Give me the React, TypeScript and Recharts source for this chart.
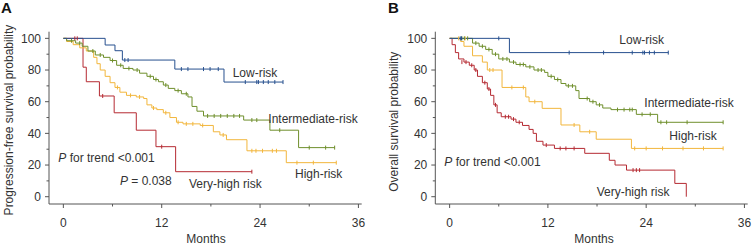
import { ComposedChart, Line, Scatter, XAxis, YAxis } from "recharts"

type Pt = [number, number]

// month, survival (%) — step values
const monthTicks = [0, 6, 12, 18, 24, 30, 36]
const probTicks = [0, 10, 20, 30, 40, 50, 60, 70, 80, 90, 100]

// A: progression-free survival
const pfsLow: Pt[] = [[0, 100], [5.1, 95.8], [6.3, 92.2], [7.2, 86.3], [13.6, 80.6], [19.6, 72.4], [26.8, 72.4]]
const pfsLowCens: Pt[] = [[7.5, 86.3], [7.9, 86.3], [14.4, 80.6], [15.2, 80.6], [17.1, 80.6], [17.9, 80.6], [18.9, 80.6], [22.2, 72.4], [23.6, 72.4], [23.8, 72.4], [24.4, 72.4], [25, 72.4], [25.8, 72.4], [26.8, 72.4]]

const pfsMid: Pt[] = [[0, 100], [0.4, 98.5], [1.5, 97], [2.3, 95], [3, 92], [3.9, 89.5], [4.9, 88], [5.7, 86], [6.5, 83], [7.3, 81], [8.5, 80], [9.3, 78], [10.2, 76], [11, 74], [11.6, 72.6], [12.2, 70.5], [12.8, 68.4], [13.6, 67], [14.4, 65], [15.2, 63], [15.7, 57], [16.3, 54], [17.1, 51], [22, 48.4], [25.2, 42], [28.7, 31], [33.1, 31]]
const pfsMidCens: Pt[] = [[1, 98.5], [2, 97], [3.6, 92], [4.5, 89.5], [6, 86], [7, 83], [8, 81], [9, 80], [10.6, 76], [11.3, 74], [12.5, 70.5], [14, 67], [15, 65], [17.6, 51], [18.4, 51], [19.2, 51], [20, 51], [20.8, 51], [21.5, 51], [23, 48.4], [23.6, 48.4], [26.4, 42], [30, 31], [32, 31], [33.1, 31]]

const pfsHigh: Pt[] = [[0, 100], [0.4, 98], [1.2, 96], [2, 94], [2.8, 92], [3.7, 88], [4.1, 84], [4.5, 80], [5.1, 76], [5.7, 72], [6.3, 69], [6.9, 66], [7.7, 64], [8.9, 63], [9.8, 62], [10.2, 58], [10.8, 56], [11.4, 55], [12.2, 53], [13, 50], [13.8, 47], [14.6, 46], [16.7, 45], [18.3, 41], [19.1, 39], [19.9, 36], [22.4, 29], [27.2, 21.5], [33.3, 21.5]]
const pfsHighCens: Pt[] = [[6.6, 69], [8.2, 64], [9.3, 63], [11, 56], [12.5, 53], [14, 47], [15, 46], [15.8, 46], [17, 45], [19.5, 39], [23, 29], [23.5, 29], [24.3, 29], [25.5, 29], [26, 29], [28.5, 21.5], [30.5, 21.5], [33.3, 21.5]]

const pfsVeryHigh: Pt[] = [[0, 100], [2.4, 81.8], [2.8, 72.6], [4.4, 63.6], [6.2, 53], [8.9, 42], [11.3, 31.6], [13.7, 15.8], [23, 15.8]]
const pfsVeryHighCens: Pt[] = [[1.4, 100], [1.7, 100], [4.8, 63.6], [12, 31.6], [23, 15.8]]

// B: overall survival
const osLow: Pt[] = [[0, 100], [7.3, 91], [26.7, 91]]
const osLowCens: Pt[] = [[1.3, 100], [1.45, 100], [6, 100], [14.6, 91], [18.8, 91], [22.3, 91], [23.6, 91], [23.8, 91], [24.4, 91], [25, 91], [26.7, 91]]

const osMid: Pt[] = [[0, 100], [2.8, 97], [3.6, 95], [4.4, 93], [5.2, 90], [6, 87], [7.3, 85], [8.1, 83.5], [9.3, 82], [10.3, 80], [11.6, 78.5], [12, 76], [12.8, 74], [13.6, 71.5], [14.2, 70], [15.4, 67], [15.8, 62], [17.1, 60], [17.9, 58], [18.7, 56], [19.7, 55], [22.8, 52], [25.4, 47], [33.4, 47]]
const osMidCens: Pt[] = [[1.5, 100], [1.8, 100], [2.2, 100], [3.2, 97], [4, 95], [4.8, 93], [5.6, 90], [6.5, 87], [7, 87], [7.8, 85], [8.6, 83.5], [9, 83.5], [9.8, 82], [10.8, 80], [11.2, 80], [12.4, 76], [13.2, 74], [14.5, 70], [15, 70], [16.8, 62], [17.5, 60], [18.3, 58], [20.5, 55], [21.3, 55], [22, 55], [22.3, 55], [23.5, 52], [24.5, 52], [25.8, 47], [26.5, 47], [29, 47], [33.4, 47]]

const osHigh: Pt[] = [[0, 100], [1.35, 98], [1.75, 95], [2.8, 89], [4, 85], [4.6, 80], [6.4, 69], [9.3, 63], [9.7, 60], [11.3, 55.8], [13.6, 45.3], [15.9, 41], [17.9, 36.3], [22.2, 30.5], [33.4, 30.5]]
const osHighCens: Pt[] = [[1.1, 100], [1.9, 100], [4.9, 80], [5.3, 80], [7.6, 69], [9, 69], [10.4, 60], [15.2, 45.3], [17.1, 41], [22.6, 30.5], [24, 30.5], [26, 30.5], [28.5, 30.5], [31, 30.5], [33.4, 30.5]]

const osVeryHigh: Pt[] = [[0, 100], [0.3, 96], [0.7, 91], [1.1, 87], [1.75, 85], [2.4, 83], [3, 80], [3.4, 76], [4, 72], [4.6, 68], [5, 64], [5.4, 58], [5.8, 53], [6.3, 50.5], [7.5, 49], [8.1, 47], [8.9, 45], [9.7, 42.5], [10.2, 40], [10.6, 35], [11.4, 32.6], [12.8, 30.5], [16.5, 27.4], [19.5, 23], [20.2, 20], [21.6, 16.8], [27.5, 8.4], [28.9, 0]]
const osVeryHighCens: Pt[] = [[1.5, 85], [2, 85], [2.7, 83], [3.2, 80], [4.3, 72], [4.8, 68], [5.6, 58], [6.8, 50.5], [7.2, 50.5], [7.8, 49], [8.5, 47], [11.8, 32.6], [13.5, 30.5], [14.2, 30.5], [15.2, 30.5], [22.4, 16.8], [22.8, 16.8], [23.2, 16.8]]

const BLUE = "#27508f"
const GREEN = "#6f8f2c"
const YELLOW = "#f2b63c"
const RED = "#b52a32"
const AXIS = "#555"
const TEXT = "#333"
const FONT = "Arial, 'Liberation Sans', sans-serif"

const toPts = (a: Pt[]) => a.map(([m, s]) => ({ m, s }))

const XTick = (props: any) => {
  const { x, y, payload } = props
  const major = payload.value % 12 === 0
  return (
    <g>
      <line x1={x} x2={x} y1={y} y2={y + (major ? 4 : 2.5)} stroke={AXIS} />
      {major && (
        <text x={x} y={y + 22.5} textAnchor="middle" fontSize={12} fill={TEXT} fontFamily={FONT}>
          {payload.value}
        </text>
      )}
    </g>
  )
}

const YTick = (props: any) => {
  const { x, y, payload } = props
  const major = payload.value % 20 === 0
  return (
    <g>
      <line x1={x - (major ? 4 : 2.5)} x2={x} y1={y} y2={y} stroke={AXIS} />
      {major && (
        <text x={x - 8} y={y + 4.2} textAnchor="end" fontSize={12} fill={TEXT} fontFamily={FONT}>
          {payload.value}
        </text>
      )}
    </g>
  )
}

const censor = (color: string) => (p: any) =>
  <line x1={p.cx} x2={p.cx} y1={p.cy - 2} y2={p.cy + 2} stroke={color} strokeWidth={1} />

type Group = { steps: Pt[]; cens: Pt[]; color: string }

const KMPanel = ({ width, yAxisWidth, right, groups }: { width: number; yAxisWidth: number; right: number; groups: Group[] }) => (
  <ComposedChart width={width} height={248} margin={{ top: 31.7, right, bottom: 14, left: 0 }}>
    <XAxis
      type="number"
      dataKey="m"
      domain={[-1.75, 36.4]}
      allowDataOverflow
      ticks={monthTicks}
      interval={0}
      tickSize={0}
      tickMargin={0}
      tick={<XTick />}
      height={30}
      stroke={AXIS}
    />
    <YAxis
      type="number"
      dataKey="s"
      domain={[-4.6, 104.2]}
      allowDataOverflow
      ticks={probTicks}
      interval={0}
      tickSize={0}
      tickMargin={0}
      tick={<YTick />}
      width={yAxisWidth}
      stroke={AXIS}
    />
    {groups.map((g, i) => (
      <Line
        key={`l${i}`}
        data={toPts(g.steps)}
        dataKey="s"
        type="stepAfter"
        stroke={g.color}
        strokeWidth={1}
        dot={false}
        activeDot={false}
        isAnimationActive={false}
      />
    ))}
    {groups.map((g, i) => (
      <Scatter key={`c${i}`} data={toPts(g.cens)} dataKey="s" shape={censor(g.color)} isAnimationActive={false} />
    ))}
  </ComposedChart>
)

const groupsA: Group[] = [
  { steps: pfsVeryHigh, cens: pfsVeryHighCens, color: RED },
  { steps: pfsHigh, cens: pfsHighCens, color: YELLOW },
  { steps: pfsMid, cens: pfsMidCens, color: GREEN },
  { steps: pfsLow, cens: pfsLowCens, color: BLUE },
]

const groupsB: Group[] = [
  { steps: osVeryHigh, cens: osVeryHighCens, color: RED },
  { steps: osHigh, cens: osHighCens, color: YELLOW },
  { steps: osMid, cens: osMidCens, color: GREEN },
  { steps: osLow, cens: osLowCens, color: BLUE },
]

const T = ({ x, y, children }: { x: number; y: number; children: any }) => (
  <text x={x} y={y} fontSize={12} fill={TEXT} fontFamily={FONT}>
    {children}
  </text>
)

export default function App() {
  return (
    <div style={{ position: "absolute", left: 0, top: 0, width: 753, height: 248, background: "#fff" }}>
      <div style={{ position: "absolute", left: 0, top: 0 }}>
        <KMPanel width={376} yAxisWidth={49} right={14.3} groups={groupsA} />
      </div>
      <div style={{ position: "absolute", left: 376, top: 0 }}>
        <KMPanel width={377} yAxisWidth={59.3} right={5.3} groups={groupsB} />
      </div>
      <svg width={753} height={248} style={{ position: "absolute", left: 0, top: 0, pointerEvents: "none" }}>
        <text x={1} y={13} fontSize={15} fontWeight="bold" fill="#111" fontFamily={FONT}>A</text>
        <text x={388} y={13} fontSize={15} fontWeight="bold" fill="#111" fontFamily={FONT}>B</text>

        <text transform="translate(12.5,120) rotate(-90)" textAnchor="middle" fontSize={12} fill={TEXT} fontFamily={FONT}>
          Progression-free survival probability
        </text>
        <text transform="translate(398,121.7) rotate(-90)" textAnchor="middle" fontSize={12} fill={TEXT} fontFamily={FONT}>
          Overall survival probability
        </text>
        <text x={206} y={243} textAnchor="middle" fontSize={12} fill={TEXT} fontFamily={FONT}>Months</text>
        <text x={594} y={243} textAnchor="middle" fontSize={12} fill={TEXT} fontFamily={FONT}>Months</text>

        <T x={232.7} y={76.7}>Low-risk</T>
        <T x={268.3} y={123.3}>Intermediate-risk</T>
        <T x={295} y={178.3}>High-risk</T>
        <T x={189} y={188}>Very-high risk</T>
        <T x={58.3} y={161.7}><tspan fontStyle="italic">P</tspan> for trend &lt;0.001</T>
        <T x={120} y={185}><tspan fontStyle="italic">P</tspan> = 0.038</T>

        <T x={619.3} y={44}>Low-risk</T>
        <T x={644.3} y={107.3}>Intermediate-risk</T>
        <T x={669.3} y={140}>High-risk</T>
        <T x={596.7} y={195.6}>Very-high risk</T>
        <T x={444.3} y={165.7}><tspan fontStyle="italic">P</tspan> for trend &lt;0.001</T>
      </svg>
    </div>
  )
}
